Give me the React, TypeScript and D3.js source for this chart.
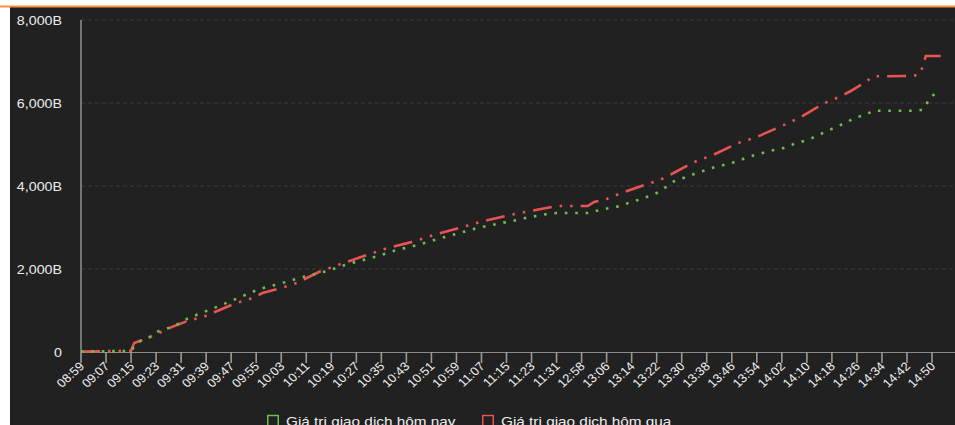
import React from "react";
import * as d3 from "d3";

// trading sessions (minute categories on the x axis)
const sessions: [string, string][] = [
  ["08:59", "11:35"],
  ["12:55", "14:57"],
];

const tickLabels = [
  "08:59", "09:07", "09:15", "09:23", "09:31", "09:39", "09:47", "09:55",
  "10:03", "10:11", "10:19", "10:27", "10:35", "10:43", "10:51", "10:59",
  "11:07", "11:15", "11:23", "11:31", "12:58", "13:06", "13:14", "13:22",
  "13:30", "13:38", "13:46", "13:54", "14:02", "14:10", "14:18", "14:26",
  "14:34", "14:42", "14:50",
];

const yTicks = [0, 2000, 4000, 6000, 8000];

const seriesNames = ["Giá trị giao dịch hôm nay", "Giá trị giao dịch hôm qua"];

// today (green, dotted)
const todayTimes = [
  "08:59", "09:14", "09:15", "09:17", "09:21", "09:23", "09:29", "09:32", "09:35",
  "09:41", "09:47", "09:50", "09:56", "10:03", "10:09", "10:18", "10:24", "10:34",
  "10:40", "10:47", "10:53", "11:00", "11:06", "11:15", "11:19", "11:22", "11:25",
  "11:28", "11:31", "13:00", "13:04", "13:07", "13:10", "13:13", "13:16", "13:19",
  "13:22", "13:25", "13:27", "13:34", "13:40", "13:46", "13:52", "13:55", "13:58",
  "14:02", "14:05", "14:11", "14:14", "14:17", "14:20", "14:23", "14:25", "14:29",
  "14:31", "14:45", "14:47", "14:48", "14:49", "14:51",
];
const todayValues = [
  10, 25, 30, 230, 361, 482, 627, 771, 867,
  1043, 1229, 1325, 1518, 1655, 1790, 1959, 2113, 2313,
  2458, 2586, 2723, 2867, 2995, 3133, 3188, 3246, 3284,
  3325, 3349, 3349, 3422, 3470, 3511, 3590, 3663, 3742,
  3831, 3976, 4096, 4289, 4441, 4554, 4716, 4778, 4843,
  4899, 4988, 5133, 5236, 5342, 5446, 5542, 5639, 5718,
  5814, 5814, 5840, 5911, 6113, 6224,
];

// yesterday (red, dash-dot)
const yesterdayTimes = [
  "08:59", "09:15", "09:16", "09:19", "09:22", "09:28", "09:33", "09:40", "09:42",
  "09:48", "09:54", "09:57", "10:03", "10:08", "10:15", "10:22", "10:31", "10:37",
  "10:46", "10:52", "11:01", "11:07", "11:16", "11:22", "11:31", "13:00", "13:02",
  "13:06", "13:11", "13:20", "13:23", "13:28", "13:34", "13:40", "13:48", "13:54",
  "14:02", "14:08", "14:15", "14:21", "14:24", "14:29", "14:31", "14:44", "14:46",
  "14:47", "14:48", "14:54",
];
const yesterdayValues = [
  12, 30, 215, 300, 393, 602, 747, 892, 971,
  1164, 1301, 1422, 1542, 1663, 1928, 2120, 2354, 2506,
  2675, 2827, 3012, 3140, 3301, 3390, 3518, 3518, 3614,
  3687, 3839, 4072, 4145, 4337, 4578, 4747, 5036, 5181,
  5446, 5655, 5976, 6169, 6289, 6513, 6643, 6651, 6692,
  6867, 7133, 7133,
];

const toMin = (t: string) => {
  const [h, m] = t.split(":").map(Number);
  return h * 60 + m;
};
const pad = (n: number) => String(n).padStart(2, "0");
const categories: string[] = [];
sessions.forEach(([a, b]) => {
  for (let m = toMin(a); m <= toMin(b); m++) categories.push(`${pad(Math.floor(m / 60))}:${pad(m % 60)}`);
});

const W = 955;
const H = 425;
const left = 81;
const step = 3.1287;
const x0 = d3
  .scalePoint<string>()
  .domain(categories)
  .range([left, left + (categories.length - 1) * step]);
const y = d3.scaleLinear().domain([0, 8000]).range([352, 20]);

const line = d3
  .line<[string, number]>()
  .x((d) => x0(d[0]) as number)
  .y((d) => y(d[1]));

const todayPts = todayTimes.map((t, i) => [t, todayValues[i]] as [string, number]);
const yestPts = yesterdayTimes.map((t, i) => [t, yesterdayValues[i]] as [string, number]);

const FONT = "'Liberation Sans', Arial, sans-serif";
const GREEN = "#6cc04a";
const RED = "#e85454";
const fmt = (v: number) => (v === 0 ? "0" : d3.format(",")(v) + "B");

export default function App() {
  return (
    <div style={{ position: "absolute", left: 0, top: 0 }}>
      <svg width={W} height={H} style={{ display: "block" }}>
        <rect x={0} y={0} width={W} height={H} fill="#ffffff" />
        <rect x={10} y={7} width={W - 10} height={H - 7} fill="#212121" />
        <rect x={0} y={5.5} width={W} height={2} fill="#f7913d" />

        {/* grid */}
        {yTicks
          .filter((v) => v > 0)
          .map((v) => (
            <line
              key={v}
              x1={left}
              x2={W}
              y1={y(v)}
              y2={y(v)}
              stroke="#3d3d3d"
              strokeWidth={1}
              strokeDasharray="4,3"
            />
          ))}

        {/* y labels */}
        {yTicks.map((v) => (
          <text
            key={v}
            transform={`translate(62,${y(v)}) scale(1.14,1)`}
            dy="0.36em"
            textAnchor="end"
            fontFamily={FONT}
            fontSize={12.5}
            fill="#ececec"
          >
            {fmt(v)}
          </text>
        ))}

        {/* y axis line */}
        <line x1={left} x2={left} y1={20} y2={352} stroke="#c8c8c8" strokeWidth={1} />

        {/* x axis */}
        <line x1={left} x2={W} y1={352.5} y2={352.5} stroke="#8a8a8a" strokeWidth={1.2} />
        {tickLabels.map((t) => {
          const xx = x0(t) as number;
          return (
            <g key={t}>
              <line x1={xx} x2={xx} y1={352} y2={363} stroke="#9a9a9a" strokeWidth={1.6} />
              <text
                transform={`translate(${xx + 4},${367}) scale(1.08,1) rotate(-45)`}
                textAnchor="end"
                fontFamily={FONT}
                fontSize={12}
                fill="#f0f0f0"
              >
                {t}
              </text>
            </g>
          );
        })}

        {/* series */}
        <path
          d={line(yestPts) || ""}
          fill="none"
          stroke={RED}
          strokeWidth={2.6}
          strokeDasharray="19,8,2.5,8,2.5,8"
        />
        <path
          d={line(todayPts) || ""}
          fill="none"
          stroke={GREEN}
          strokeWidth={2.6}
          strokeDasharray="2.6,7.8"
        />

        {/* legend */}
        {seriesNames.map((name, i) => {
          const lx = i === 0 ? 267 : 482;
          const col = i === 0 ? GREEN : RED;
          return (
            <g key={name}>
              <rect x={lx + 0.75} y={415.5} width={10.5} height={12} fill="none" stroke={col} strokeWidth={1.5} />
              <text
                transform={`translate(${lx + 19},${425.5}) scale(1.18,1)`}
                fontFamily={FONT}
                fontSize={13}
                fill="#eeeeee"
              >
                {name}
              </text>
            </g>
          );
        })}
      </svg>
    </div>
  );
}
